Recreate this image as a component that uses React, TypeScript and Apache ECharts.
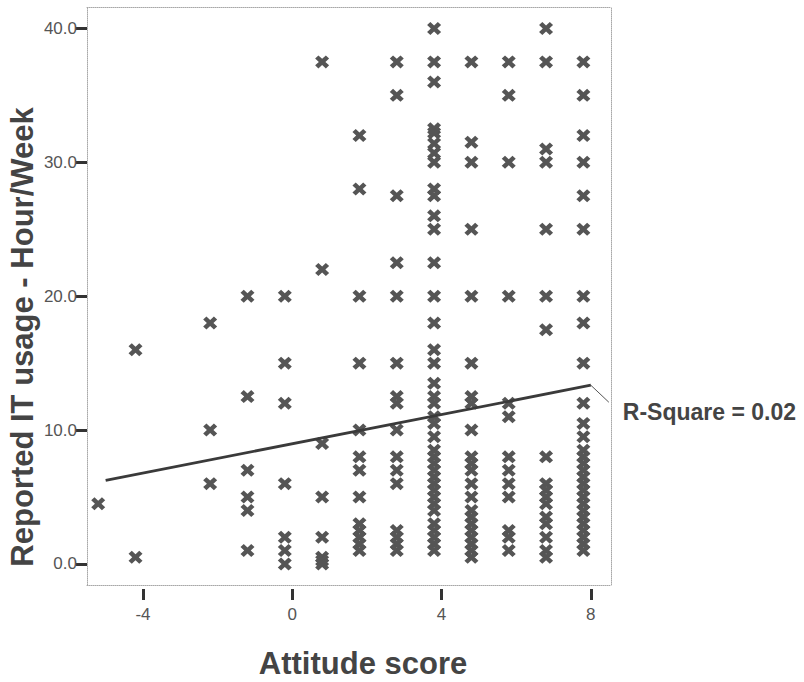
import React, { useEffect, useRef } from "react";
import * as echarts from "echarts";

// Attitude score column positions (as plotted)
const attitudeLevels = [-5.2, -4.2, -2.2, -1.2, -0.2, 0.8, 1.8, 2.8, 3.8, 4.8, 5.8, 6.8, 7.8];

// Reported IT usage (hours/week) per attitude column
const hoursM52 = [4.5];
const hoursM42 = [16, 0.5];
const hoursM22 = [18, 10, 6];
const hoursM12 = [20, 12.5, 7, 5, 4, 1];
const hoursM02 = [20, 15, 12, 6, 2, 1, 0];
const hoursP08 = [37.5, 22, 9, 5, 2, 0.5, 0.25, 0];
const hoursP18 = [32, 28, 20, 15, 10, 8, 7, 5, 3, 2.5, 2, 1.5, 1];
const hoursP28 = [37.5, 35, 27.5, 22.5, 20, 15, 12.5, 12, 10, 8, 7, 6, 2.5, 2, 1.5, 1];
const hoursP38 = [40, 37.5, 36, 32.5, 32.2, 31.4, 30.7, 30, 28, 27.5, 26, 25, 22.5, 20, 18, 16, 15, 13.5, 12.5, 12, 11, 10.5, 9.5, 8.5, 8, 7.5, 7, 6.5, 6, 5.5, 5, 4.5, 4, 3, 2.5, 2, 1.5, 1];
const hoursP48 = [37.5, 31.5, 30, 25, 20, 15, 12.5, 12, 10, 8, 7.5, 7, 6, 5, 4, 3.5, 3, 2.5, 2, 1.5, 1, 0.5];
const hoursP58 = [37.5, 35, 30, 20, 12, 11, 8, 7, 6, 5, 2.5, 2, 1];
const hoursP68 = [40, 37.5, 31, 30, 25, 20, 17.5, 8, 6, 5.5, 5, 4.5, 3.5, 3, 2, 1, 0.5];
const hoursP78 = [37.5, 35, 32, 30, 27.5, 25, 20, 18, 15, 12, 10.5, 9.5, 8.5, 8, 7.5, 7, 6.5, 6, 5.5, 5, 4.5, 4, 3.5, 3, 2.5, 2, 1.5, 1];

const hoursByLevel = [hoursM52, hoursM42, hoursM22, hoursM12, hoursM02, hoursP08, hoursP18, hoursP28, hoursP38, hoursP48, hoursP58, hoursP68, hoursP78];

// Fitted linear regression line endpoints
const fitX = [-5, 8];
const fitY = [6.25, 13.35];
const rSquareText = "R-Square = 0.02";

// Axis ticks
const xTicks = [-4, 0, 4, 8];
const yTicks = [0, 10, 20, 30, 40];
const X_MIN = -5.5;
const X_MAX = 8.54;
const Y_MIN = -1.57;
const Y_MAX = 41.6;

const xTitle = "Attitude score";
const yTitle = "Reported IT usage - Hour/Week";

const FONT = "'Liberation Sans', Arial, sans-serif";
const X_SYMBOL = "path://M0,2.8 L2.8,0 L6,3.2 L9.2,0 L12,2.8 L8.8,6 L12,9.2 L9.2,12 L6,8.8 L2.8,12 L0,9.2 L3.2,6 Z";

export default function App() {
  const ref = useRef<HTMLDivElement>(null);

  useEffect(() => {
    if (!ref.current) return;
    const chart = echarts.init(ref.current, null, { renderer: "svg" });

    const points: number[][] = [];
    attitudeLevels.forEach((x, i) => {
      hoursByLevel[i].forEach((y) => points.push([x, y]));
    });

    const borderLine = { show: true, onZero: false, lineStyle: { color: "#a8a8a8", width: 1, type: "dotted" as const } };

    chart.setOption({
      animation: false,
      backgroundColor: "#ffffff",
      grid: { left: 87, right: 193, top: 7, bottom: 97, containLabel: false },
      xAxis: [
        {
          type: "value", min: X_MIN, max: X_MAX, position: "bottom",
          axisLine: borderLine, axisTick: { show: false }, axisLabel: { show: false }, splitLine: { show: false },
        },
        {
          type: "value", min: X_MIN, max: X_MAX, position: "top",
          axisLine: borderLine, axisTick: { show: false }, axisLabel: { show: false }, splitLine: { show: false },
        },
        {
          type: "value", min: X_MIN, max: X_MAX, position: "bottom", offset: 4,
          axisLine: { show: false, onZero: false },
          axisTick: { show: true, customValues: xTicks, length: 11, lineStyle: { color: "#333", width: 3 } },
          axisLabel: { show: true, customValues: xTicks, margin: 17, color: "#555", fontSize: 17, fontFamily: FONT },
          splitLine: { show: false },
        },
      ],
      yAxis: [
        {
          type: "value", min: Y_MIN, max: Y_MAX, position: "left",
          axisLine: borderLine,
          axisTick: { show: true, customValues: yTicks, length: 11, lineStyle: { color: "#333", width: 3 } },
          axisLabel: {
            show: true, customValues: yTicks, margin: 10, color: "#555", fontSize: 17, fontFamily: FONT,
            formatter: (v: number) => v.toFixed(1),
          },
          splitLine: { show: false },
        },
        {
          type: "value", min: Y_MIN, max: Y_MAX, position: "right",
          axisLine: borderLine, axisTick: { show: false }, axisLabel: { show: false }, splitLine: { show: false },
        },
      ],
      series: [
        {
          type: "scatter",
          xAxisIndex: 0,
          yAxisIndex: 0,
          data: points,
          symbol: X_SYMBOL,
          symbolSize: [14, 13],
          itemStyle: { color: "#555555", opacity: 1 },
          z: 2,
        },
        {
          type: "line",
          xAxisIndex: 0,
          yAxisIndex: 0,
          data: fitX.map((x, i) => [x, fitY[i]]),
          showSymbol: false,
          symbol: "none",
          lineStyle: { color: "#3a3a3a", width: 2.8 },
          z: 3,
        },
      ],
    });

    const end = chart.convertToPixel({ xAxisIndex: 0, yAxisIndex: 0 }, [fitX[1], fitY[1]]) as number[];
    chart.setOption({
      graphic: [
        {
          type: "line",
          shape: { x1: end[0], y1: end[1], x2: end[0] + 18, y2: end[1] + 17 },
          style: { stroke: "#555", lineWidth: 1 },
          z: 10,
        },
        {
          type: "text",
          x: end[0] + 32,
          y: end[1] + 27,
          style: {
            text: rSquareText,
            fill: "#444",
            font: `bold 23px ${FONT}`,
            textAlign: "left",
            textVerticalAlign: "middle",
          },
          z: 10,
        },
        {
          type: "text",
          x: 363,
          y: 663,
          style: {
            text: xTitle,
            fill: "#444",
            font: `bold 31px ${FONT}`,
            textAlign: "center",
            textVerticalAlign: "middle",
          },
        },
        {
          type: "text",
          x: 22,
          y: 337,
          rotation: Math.PI / 2,
          style: {
            text: yTitle,
            fill: "#444",
            font: `bold 31px ${FONT}`,
            textAlign: "center",
            textVerticalAlign: "middle",
          },
        },
      ],
    });

    return () => chart.dispose();
  }, []);

  return (
    <div
      ref={ref}
      style={{ position: "fixed", left: 0, top: 0, width: 804, height: 682, background: "#fff" }}
    />
  );
}
